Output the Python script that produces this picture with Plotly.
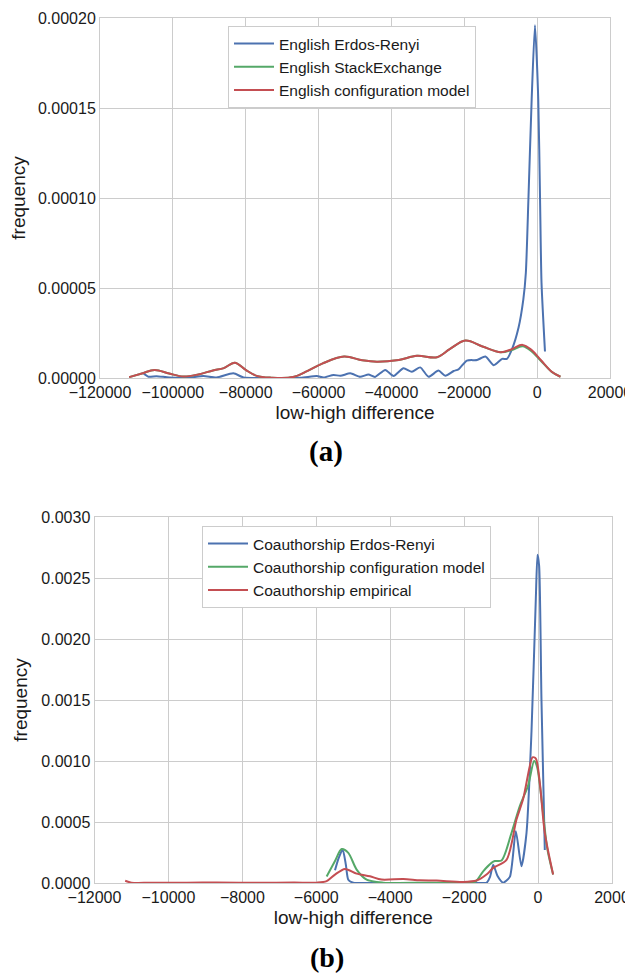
import plotly.graph_objects as go

# ---------------- Panel (a) data ----------------
a_er_x = [-108100, -106700, -104500, -101000, -96000, -91600, -88000, -83400, -80600, -75000,
          -65000, -60500, -58600, -55900, -54000, -51300, -48600, -46300, -44500, -41700,
          -39400, -36700, -34400, -32100, -29800, -27100, -25200, -22900, -21600, -19300,
          -16500, -14200, -11900, -9600, -8300, -6900, -5100, -3800, -3100, -2400,
          -1500, -600, 300, 800, 1200, 2150]
a_er_y = [2.6e-6, 0.7e-6, 1.0e-6, 0.3e-6, 0.1e-6, 1.1e-6, 0.3e-6, 2.6e-6, 0.3e-6, 0.05e-6,
          0.1e-6, 1.1e-6, 0.3e-6, 1.7e-6, 1.2e-6, 2.6e-6, 0.7e-6, 1.9e-6, 0.6e-6, 4.5e-6,
          1.1e-6, 5.4e-6, 3.5e-6, 5.9e-6, 0.7e-6, 4.1e-6, 1.3e-6, 3.9e-6, 4.8e-6, 9.7e-6,
          10.0e-6, 11.9e-6, 7.1e-6, 10.6e-6, 10.6e-6, 16.0e-6, 28.0e-6, 43.5e-6, 58.5e-6, 99e-6,
          155e-6, 196e-6, 155e-6, 99e-6, 53e-6, 14.7e-6]

a_se_x = [-112000, -108500, -105000, -101000, -97000, -93000, -89000, -86000, -83000, -80000,
          -77000, -73000, -67000, -63000, -59000, -53000, -48000, -44000, -38000, -33000,
          -27500, -24000, -19700, -15000, -10000, -7000, -4000, -1500, 1000, 4000, 6400]
a_se_y = [0.5e-6, 2.5e-6, 4.5e-6, 2.5e-6, 0.8e-6, 2.0e-6, 4.2e-6, 5.5e-6, 8.5e-6, 4.5e-6,
          1.2e-6, 0.2e-6, 0.5e-6, 4.0e-6, 8.0e-6, 11.9e-6, 9.8e-6, 9.0e-6, 10.0e-6, 12.3e-6,
          11.5e-6, 16.0e-6, 20.8e-6, 17.5e-6, 14.3e-6, 15.5e-6, 17.6e-6, 14.8e-6, 9.6e-6, 3.4e-6, 0.7e-6]

a_cm_x = [-112000, -108500, -105000, -101000, -97000, -93000, -89000, -86000, -83000, -80000,
          -77000, -73000, -67000, -63000, -59000, -53000, -48000, -44000, -38000, -33000,
          -27500, -24000, -19700, -15000, -10000, -7000, -4000, -1500, 1000, 4000, 6400]
a_cm_y = [0.5e-6, 2.5e-6, 4.5e-6, 2.5e-6, 0.8e-6, 2.0e-6, 4.2e-6, 5.5e-6, 8.5e-6, 4.5e-6,
          1.2e-6, 0.2e-6, 0.5e-6, 4.0e-6, 8.0e-6, 11.9e-6, 9.8e-6, 9.0e-6, 10.0e-6, 12.3e-6,
          11.5e-6, 16.0e-6, 20.8e-6, 17.5e-6, 14.3e-6, 16.0e-6, 18.4e-6, 15.5e-6, 10.0e-6, 3.5e-6, 0.7e-6]

# ---------------- Panel (b) data ----------------
b_er_x = [-5494, -5400, -5287, -5200, -5134, -5000, -4800, -3000, -1600, -1395, -1300, -1214,
          -1100, -944, -764, -602, -449, -313, -178, -61, -16, 29, 92, 182]
b_er_y = [1.04e-4, 2.0e-4, 2.75e-4, 1.5e-4, 2.7e-5, 2e-6, 0.5e-6, 0.5e-6, 0.5e-6, 2e-6, 5.0e-5, 1.5e-4,
          6.0e-5, 3e-6, 5.0e-5, 4.25e-4, 1.37e-4, 4.1e-4, 1.24e-3, 2.33e-3, 2.69e-3, 2.6e-3, 1.5e-3, 2.7e-4]

b_cm_x = [-5720, -5494, -5314, -5134, -4908, -4638, -4188, -3000, -2000, -1700, -1485, -1260,
          -1170, -989, -719, -494, -268, -106, -25, 92, 250, 407]
b_cm_y = [5.4e-5, 1.8e-4, 2.78e-4, 2.47e-4, 1.1e-4, 2.7e-5, 3e-6, 2e-6, 2e-6, 1.0e-5, 9.6e-5, 1.65e-4,
          1.8e-4, 1.85e-4, 4.1e-4, 6.3e-4, 8.0e-4, 1.0e-3, 9.5e-4, 6.9e-4, 2.8e-4, 7.0e-5]

b_emp_x = [-11170, -11000, -10500, -9500, -8700, -7500, -6600, -5990, -5720, -5494, -5224, -4908,
           -4548, -4233, -3647, -3197, -2746, -2025, -1665, -1395, -1214, -854, -584, -403,
           -223, -151, -61, 47, 182, 407]
b_emp_y = [1.8e-5, 3e-6, 2e-6, 2e-6, 4e-6, 2e-6, 4e-6, 3e-6, 1.5e-5, 6.9e-5, 1.15e-4, 7.7e-5,
           5.5e-5, 2.8e-5, 3.3e-5, 2.2e-5, 2.0e-5, 8.8e-6, 2.0e-5, 6.9e-5, 1.24e-4, 1.9e-4, 5.2e-4, 6.9e-4,
           9.6e-4, 1.03e-3, 1.02e-3, 8.2e-4, 4.1e-4, 7.0e-5]

a_xticks = [-120000, -100000, -80000, -60000, -40000, -20000, 0, 20000]
a_yticks = [0.0, 0.00005, 0.00010, 0.00015, 0.00020]
b_xticks = [-12000, -10000, -8000, -6000, -4000, -2000, 0, 2000]
b_yticks = [0.0, 0.0005, 0.0010, 0.0015, 0.0020, 0.0025, 0.0030]

BLUE, GREEN, RED = "#4C72B0", "#55A868", "#C44E52"
FONT = "Liberation Sans, Arial, sans-serif"
SERIF = "Liberation Serif, Times New Roman, serif"
OFF = 8                      # page body margin in the browser
W, H = 633 - OFF, 975 - OFF


def px(v):
    return (v - OFF)


fig = go.Figure()
line_kw = dict(mode="lines", line_shape="spline")
fig.add_trace(go.Scatter(x=a_er_x, y=a_er_y, name="English Erdos-Renyi",
                         line=dict(color=BLUE, width=2, smoothing=0.6), xaxis="x", yaxis="y", legend="legend", **line_kw))
fig.add_trace(go.Scatter(x=a_se_x, y=a_se_y, name="English StackExchange",
                         line=dict(color=GREEN, width=2, smoothing=1.0), xaxis="x", yaxis="y", legend="legend", **line_kw))
fig.add_trace(go.Scatter(x=a_cm_x, y=a_cm_y, name="English configuration model",
                         line=dict(color=RED, width=2, smoothing=1.0), xaxis="x", yaxis="y", legend="legend", **line_kw))

fig.add_trace(go.Scatter(x=b_er_x, y=b_er_y, name="Coauthorship Erdos-Renyi",
                         line=dict(color=BLUE, width=2, smoothing=0.6), xaxis="x2", yaxis="y2", legend="legend2", **line_kw))
fig.add_trace(go.Scatter(x=b_cm_x, y=b_cm_y, name="Coauthorship configuration model",
                         line=dict(color=GREEN, width=2, smoothing=0.8), xaxis="x2", yaxis="y2", legend="legend2", **line_kw))
fig.add_trace(go.Scatter(x=b_emp_x, y=b_emp_y, name="Coauthorship empirical",
                         line=dict(color=RED, width=2, smoothing=0.8), xaxis="x2", yaxis="y2", legend="legend2", **line_kw))

grid = "#cccccc"
ax_common = dict(showgrid=True, gridcolor=grid, gridwidth=1, zeroline=False, showline=True,
                 linecolor=grid, linewidth=1, mirror=True, ticks="", automargin=False,
                 tickfont=dict(family=FONT, size=16, color="#1a1a1a"))
title_font = dict(family=FONT, size=19, color="#1a1a1a")
leg_common = dict(xanchor="left", yanchor="top", bgcolor="white", bordercolor=grid, borderwidth=1,
                  font=dict(family=FONT, size=15.5, color="#1a1a1a"), tracegroupgap=0, itemwidth=40)

fig.update_layout(
    width=W, height=H,
    margin=dict(l=0, r=0, t=0, b=0, autoexpand=False),
    paper_bgcolor="white", plot_bgcolor="white",
    font=dict(family=FONT, color="#1a1a1a"),
    xaxis=dict(domain=[px(100) / W, px(610) / W], range=[-120000, 20000], tickvals=a_xticks,
               tickformat="d", anchor="y",
               title=dict(text="low-high difference", font=title_font, standoff=5), **ax_common),
    yaxis=dict(domain=[1 - px(378) / H, 1 - px(18) / H], range=[0, 0.0002], tickvals=a_yticks,
               tickformat=".5f", anchor="x",
               title=dict(text="frequency", font=title_font, standoff=8), **ax_common),
    xaxis2=dict(domain=[px(94.5) / W, px(612) / W], range=[-12000, 2000], tickvals=b_xticks,
                tickformat="d", anchor="y2",
                title=dict(text="low-high difference", font=title_font, standoff=5), **ax_common),
    yaxis2=dict(domain=[1 - px(883) / H, 1 - px(517) / H], range=[0, 0.003], tickvals=b_yticks,
                tickformat=".4f", anchor="x2",
                title=dict(text="frequency", font=title_font, standoff=8), **ax_common),
    legend=dict(x=px(228) / W, y=1 - px(26) / H, **leg_common),
    legend2=dict(x=px(202) / W, y=1 - px(526) / H, **leg_common),
    showlegend=True,
    annotations=[
        dict(text="<b>(a)</b>", x=px(326) / W, y=1 - px(452) / H, xref="paper", yref="paper",
             xanchor="center", yanchor="middle", showarrow=False,
             font=dict(family=SERIF, size=29, color="black")),
        dict(text="<b>(b)</b>", x=px(327) / W, y=1 - px(957) / H, xref="paper", yref="paper",
             xanchor="center", yanchor="middle", showarrow=False,
             font=dict(family=SERIF, size=28, color="black")),
    ],
)

fig.write_html("out.html")
